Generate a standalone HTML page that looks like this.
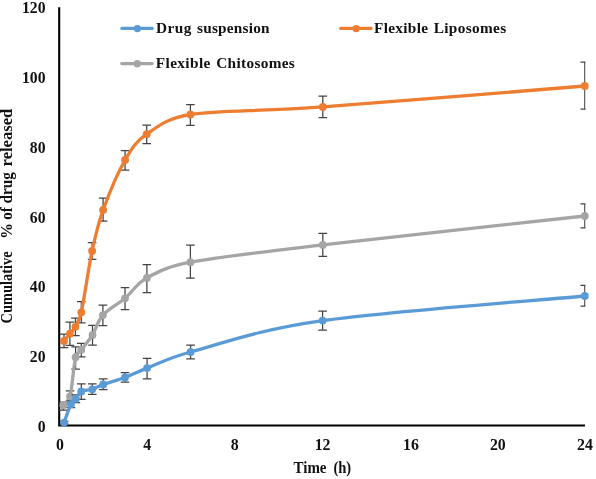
<!DOCTYPE html>
<html><head><meta charset="utf-8"><title>Drug release</title>
<style>html,body{margin:0;padding:0;background:#fff}body{width:596px;height:479px;overflow:hidden;position:relative;font-family:"Liberation Serif",serif}</style>
</head><body>
<svg width="596" height="479" viewBox="0 0 596 479" style="position:absolute;left:0;top:0;display:block;will-change:transform">
<defs><clipPath id="pc"><rect x="55" y="0" width="530.5" height="430"/></clipPath></defs>
<rect width="596" height="479" fill="#fff"/>
<path d="M59.2,7.2V426.5M58.2,425.5H585" fill="none" stroke="#000" stroke-width="2.1"/>
<path d="M63.3,402.0V410.0M59.0,402.0h8.6M59.0,410.0h8.6M70.0,390.8V402.8M65.7,390.8h8.6M65.7,402.8h8.6M75.6,346.9V369.1M71.3,346.9h8.6M71.3,369.1h8.6M81.3,343.3V356.9M77.0,343.3h8.6M77.0,356.9h8.6M92.5,325.4V345.0M88.2,325.4h8.6M88.2,345.0h8.6M102.9,305.1V325.7M98.6,305.1h8.6M98.6,325.7h8.6M125.0,287.7V309.7M120.7,287.7h8.6M120.7,309.7h8.6M146.9,264.7V292.7M142.6,264.7h8.6M142.6,292.7h8.6M190.4,245.2V278.0M186.1,245.2h8.6M186.1,278.0h8.6M322.8,233.3V256.3M318.5,233.3h8.6M318.5,256.3h8.6M584.8,203.8V227.8M580.5,203.8h8.6M580.5,227.8h8.6" fill="none" stroke="#444" stroke-width="1.25" clip-path="url(#pc)"/>
<path d="M63.30,405.20 C64.42,403.75 68.64,401.82 70.00,396.50 C72.05,388.50 73.72,364.98 75.60,357.20 C76.70,352.66 78.48,353.52 81.30,349.80 C84.12,346.08 88.90,340.68 92.50,334.90 C96.10,329.12 97.48,321.20 102.90,315.10 C108.32,309.00 117.67,304.50 125.00,298.30 C132.33,292.10 136.00,283.92 146.90,277.90 C157.80,271.88 167.67,266.46 190.40,262.20 C219.72,256.70 257.07,252.60 322.80,244.90 C388.53,237.20 541.13,220.82 584.80,216.00" fill="none" stroke="#a5a5a5" stroke-width="3.3" stroke-linecap="round" stroke-linejoin="round"/>
<circle cx="63.3" cy="405.2" r="3.9" fill="#a5a5a5"/><circle cx="70.0" cy="396.5" r="3.9" fill="#a5a5a5"/><circle cx="75.6" cy="357.2" r="3.9" fill="#a5a5a5"/><circle cx="81.3" cy="349.8" r="3.9" fill="#a5a5a5"/><circle cx="92.5" cy="334.9" r="3.9" fill="#a5a5a5"/><circle cx="102.9" cy="315.1" r="3.9" fill="#a5a5a5"/><circle cx="125.0" cy="298.3" r="3.9" fill="#a5a5a5"/><circle cx="146.9" cy="277.9" r="3.9" fill="#a5a5a5"/><circle cx="190.4" cy="262.2" r="3.9" fill="#a5a5a5"/><circle cx="322.8" cy="244.9" r="3.9" fill="#a5a5a5"/><circle cx="584.8" cy="216.0" r="3.9" fill="#a5a5a5"/>
<path d="M64.0,334.2V347.6M59.7,334.2h8.6M59.7,347.6h8.6M69.9,322.0V345.4M65.6,322.0h8.6M65.6,345.4h8.6M75.4,318.1V335.5M71.1,318.1h8.6M71.1,335.5h8.6M81.3,301.7V322.9M77.0,301.7h8.6M77.0,322.9h8.6M92.1,242.6V259.4M87.8,242.6h8.6M87.8,259.4h8.6M103.1,198.0V221.0M98.8,198.0h8.6M98.8,221.0h8.6M125.1,150.6V170.0M120.8,150.6h8.6M120.8,170.0h8.6M146.7,125.0V143.6M142.4,125.0h8.6M142.4,143.6h8.6M190.4,104.6V125.4M186.1,104.6h8.6M186.1,125.4h8.6M322.8,96.2V117.6M318.5,96.2h8.6M318.5,117.6h8.6M584.8,62.0V109.0M580.5,62.0h8.6M580.5,109.0h8.6" fill="none" stroke="#444" stroke-width="1.25" clip-path="url(#pc)"/>
<path d="M64.00,340.90 C64.98,339.70 68.00,336.05 69.90,333.70 C71.80,331.35 73.50,330.37 75.40,326.80 C77.30,323.23 79.62,319.94 81.30,312.30 C84.08,299.67 88.47,268.05 92.10,251.00 C95.73,233.95 97.60,225.17 103.10,210.00 C108.60,194.83 117.83,172.63 125.10,160.00 C132.37,147.37 135.82,141.78 146.70,134.20 C157.58,126.62 166.72,118.17 190.40,114.50 C219.75,109.95 257.07,111.65 322.80,106.90 C388.53,102.15 541.13,89.48 584.80,86.00" fill="none" stroke="#ed7d31" stroke-width="3.3" stroke-linecap="round" stroke-linejoin="round"/>
<circle cx="64.0" cy="340.9" r="3.9" fill="#ed7d31"/><circle cx="69.9" cy="333.7" r="3.9" fill="#ed7d31"/><circle cx="75.4" cy="326.8" r="3.9" fill="#ed7d31"/><circle cx="81.3" cy="312.3" r="3.9" fill="#ed7d31"/><circle cx="92.1" cy="251.0" r="3.9" fill="#ed7d31"/><circle cx="103.1" cy="210.0" r="3.9" fill="#ed7d31"/><circle cx="125.1" cy="160.0" r="3.9" fill="#ed7d31"/><circle cx="146.7" cy="134.2" r="3.9" fill="#ed7d31"/><circle cx="190.4" cy="114.5" r="3.9" fill="#ed7d31"/><circle cx="322.8" cy="106.9" r="3.9" fill="#ed7d31"/><circle cx="584.8" cy="86.0" r="3.9" fill="#ed7d31"/>
<path d="M64.1,421.4V423.8M59.8,421.4h8.6M59.8,423.8h8.6M70.9,400.9V407.5M66.6,400.9h8.6M66.6,407.5h8.6M75.9,394.9V402.5M71.6,394.9h8.6M71.6,402.5h8.6M81.3,383.8V399.4M77.0,383.8h8.6M77.0,399.4h8.6M92.3,383.9V394.3M88.0,383.9h8.6M88.0,394.3h8.6M103.2,378.9V389.5M98.9,378.9h8.6M98.9,389.5h8.6M125.0,372.6V382.2M120.7,372.6h8.6M120.7,382.2h8.6M147.1,358.4V378.8M142.8,358.4h8.6M142.8,378.8h8.6M190.6,345.2V358.8M186.3,345.2h8.6M186.3,358.8h8.6M322.6,311.2V330.2M318.3,311.2h8.6M318.3,330.2h8.6M584.8,285.4V306.0M580.5,285.4h8.6M580.5,306.0h8.6" fill="none" stroke="#444" stroke-width="1.25" clip-path="url(#pc)"/>
<path d="M64.10,422.60 C65.23,419.53 68.93,408.18 70.90,404.20 C72.55,400.87 74.17,400.83 75.90,398.70 C77.63,396.57 78.57,392.97 81.30,391.40 C84.03,389.83 88.65,390.47 92.30,389.30 C95.95,388.13 97.75,386.37 103.20,384.40 C108.65,382.43 117.68,380.22 125.00,377.50 C132.32,374.78 136.17,372.35 147.10,368.10 C158.03,363.85 168.21,358.06 190.60,352.00 C219.85,344.08 256.90,329.93 322.60,320.60 C388.30,311.27 541.10,300.10 584.80,296.00" fill="none" stroke="#5b9bd5" stroke-width="3.3" stroke-linecap="round" stroke-linejoin="round"/>
<circle cx="64.1" cy="422.6" r="3.9" fill="#5b9bd5"/><circle cx="70.9" cy="404.2" r="3.9" fill="#5b9bd5"/><circle cx="75.9" cy="398.7" r="3.9" fill="#5b9bd5"/><circle cx="81.3" cy="391.4" r="3.9" fill="#5b9bd5"/><circle cx="92.3" cy="389.3" r="3.9" fill="#5b9bd5"/><circle cx="103.2" cy="384.4" r="3.9" fill="#5b9bd5"/><circle cx="125.0" cy="377.5" r="3.9" fill="#5b9bd5"/><circle cx="147.1" cy="368.1" r="3.9" fill="#5b9bd5"/><circle cx="190.6" cy="352.0" r="3.9" fill="#5b9bd5"/><circle cx="322.6" cy="320.6" r="3.9" fill="#5b9bd5"/><circle cx="584.8" cy="296.0" r="3.9" fill="#5b9bd5"/>
<path d="M121.9,28.4h30.3" stroke="#5b9bd5" stroke-width="3.2" stroke-linecap="round"/>
<circle cx="137.4" cy="28.6" r="3.7" fill="#5b9bd5"/>
<path d="M340.7,28.4h30.3" stroke="#ed7d31" stroke-width="3.2" stroke-linecap="round"/>
<circle cx="356.2" cy="28.6" r="3.7" fill="#ed7d31"/>
<path d="M121.8,63.6h30.3" stroke="#a5a5a5" stroke-width="3.2" stroke-linecap="round"/>
<circle cx="137.3" cy="63.8" r="3.7" fill="#a5a5a5"/>
<g font-family="Liberation Serif, serif" font-weight="bold" fill="#111" font-size="15.3">
<text x="155.9" y="33.4" textLength="35.4" lengthAdjust="spacing">Drug</text>
<text x="197.0" y="33.4" textLength="72.6" lengthAdjust="spacing">suspension</text>
<text x="374.0" y="33.4" textLength="54.0" lengthAdjust="spacing">Flexible</text>
<text x="433.7" y="33.4" textLength="72.4" lengthAdjust="spacing">Liposomes</text>
<text x="155.8" y="67.5" textLength="54.5" lengthAdjust="spacing">Flexible</text>
<text x="216.2" y="67.5" textLength="78.6" lengthAdjust="spacing">Chitosomes</text>
</g>
<g font-family="Liberation Serif, serif" font-weight="bold" fill="#111" font-size="15.7" text-anchor="end">
<text x="45.5" y="431.8">0</text>
<text x="45.5" y="362.0">20</text>
<text x="45.5" y="292.2">40</text>
<text x="45.5" y="222.5">60</text>
<text x="45.5" y="152.7">80</text>
<text x="45.5" y="82.9">100</text>
<text x="45.5" y="13.1">120</text>
</g>
<g font-family="Liberation Serif, serif" font-weight="bold" fill="#111" font-size="15.8" text-anchor="middle">
<text x="60.0" y="449.8">0</text>
<text x="147.2" y="449.8">4</text>
<text x="234.6" y="449.8">8</text>
<text x="322.6" y="449.8">12</text>
<text x="411.0" y="449.8">16</text>
<text x="497.8" y="449.8">20</text>
<text x="585.0" y="449.8">24</text>
</g>
<g font-family="Liberation Serif, serif" font-weight="bold" fill="#111" font-size="16.2"><text x="293.5" y="472.8" textLength="33" lengthAdjust="spacingAndGlyphs">Time</text><text x="333.4" y="472.8" textLength="17.8" lengthAdjust="spacingAndGlyphs">(h)</text></g>
<g transform="translate(12.3,323.5) rotate(-90)" font-family="Liberation Serif, serif" font-weight="bold" fill="#111" font-size="16.3">
<text x="0.0" y="0" textLength="72.2" lengthAdjust="spacingAndGlyphs">Cumulative</text>
<text x="84.7" y="0" textLength="15.7" lengthAdjust="spacingAndGlyphs">%</text>
<text x="103.8" y="0" textLength="12.6" lengthAdjust="spacingAndGlyphs">of</text>
<text x="120.1" y="0" textLength="31.4" lengthAdjust="spacingAndGlyphs">drug</text>
<text x="157.1" y="0" textLength="57.7" lengthAdjust="spacingAndGlyphs">released</text>
</g>
</svg>
</body></html>
